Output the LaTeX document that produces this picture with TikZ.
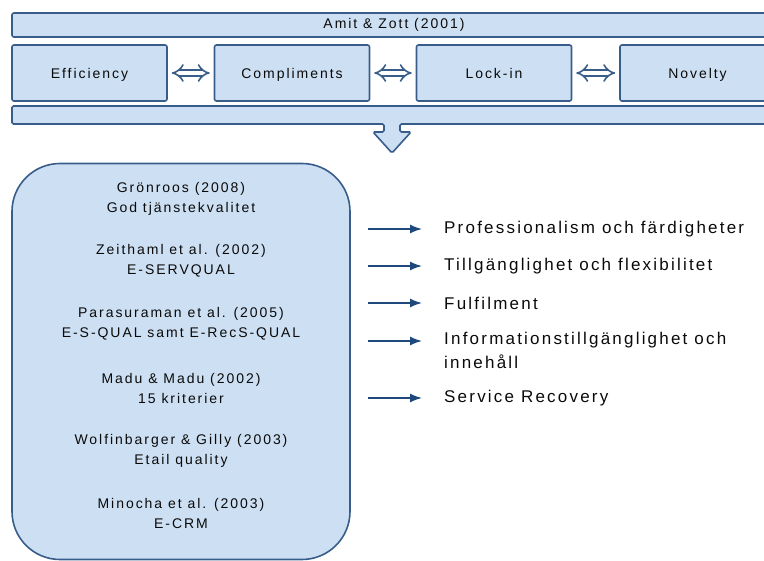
\documentclass[tikz,border=0pt]{standalone}
\usepackage{fontspec}
\usepackage{xcolor}
\usepackage{tikz}
\usetikzlibrary{arrows.meta}
\setmainfont{Liberation Sans}
\newfontfamily\panefont[LetterSpace=14]{Liberation Sans}
\newfontfamily\itemfont[LetterSpace=13]{Liberation Sans}
\definecolor{panefill}{RGB}{205,223,242}
\definecolor{paneline}{RGB}{56,93,138}
\definecolor{arrowblue}{RGB}{31,73,125}
\definecolor{inktext}{RGB}{10,10,10}

\tikzset{
  pane/.style={draw=paneline, fill=panefill, line width=1.6pt, rounded corners=2pt,
    inner sep=0pt, text=inktext, font=\panefont\fontsize{14}{20}\selectfont},
  stage/.style={pane, minimum width=155pt, minimum height=56pt, text height=12pt, text depth=0pt},
  link/.style={draw=paneline, double=white, double distance=4.5pt, line width=1.6pt,
    shorten >=4pt, shorten <=4pt, {Implies}-{Implies}},
  model/.style={align=center, inner sep=0pt, text=inktext,
    font=\panefont\fontsize{14}{20}\selectfont},
  dim/.style={anchor=west, align=left, inner sep=0pt, text=inktext,
    font=\itemfont\fontsize{17}{24}\selectfont},
  flow/.style={draw=arrowblue, line width=1.4pt, shorten >=22pt,
    -{Latex[length=12pt, width=9pt]}}
}

\begin{document}
\begin{tikzpicture}[x=1pt, y=-1pt]
  \useasboundingbox (0,0) rectangle (764,561);
  \clip (0,0) rectangle (764,561);
  % Amit & Zott bar at top
  \node[pane, minimum width=764pt, minimum height=24pt] (amit) at (394,25) {Amit \& Zott (2001)};
  % Value drivers
  \node[stage] (eff) at (89.5,73) {Efficiency};
  \node[stage] (comp) at (292,73) {Compliments};
  \node[stage] (lock) at (494,73) {Lock-in};
  \node[stage] (nov) at (697.5,73) {Novelty};
  \draw[link] (eff) -- (comp);
  \draw[link] (comp) -- (lock);
  \draw[link] (lock) -- (nov);
  % Bar with arrow down
  \draw[draw=paneline, fill=panefill, line width=1.6pt, rounded corners=1.5pt]
    (12,106) -- (776,106) -- (776,124) -- (400,124) -- (400,132) -- (411,132)
    -- (392,153) -- (373,132) -- (384,132) -- (384,124) -- (12,124) -- cycle;
  % Quality models
  \node[pane, rounded corners=48pt, minimum width=338pt, minimum height=396pt] (models) at (181,361.5) {};
  \node[model] (gron) at (181,199) {Grönroos (2008)\\God tjänstekvalitet};
  \node[model] (zeit) at (181,261) {Zeithaml et al. (2002)\\E-SERVQUAL};
  \node[model] (para) at (181,324) {Parasuraman et al. (2005)\\E-S-QUAL samt E-RecS-QUAL};
  \node[model] (madu) at (181,388) {Madu \& Madu (2002)\\15 kriterier};
  \node[model] (wolf) at (181,451) {Wolfinbarger \& Gilly (2003)\\Etail quality};
  \node[model] (mino) at (181,513) {Minocha et al. (2003)\\E-CRM};
  % Dimensions
  \coordinate (a1) at (368,229);
  \coordinate (a2) at (368,266);
  \coordinate (a3) at (368,303);
  \coordinate (a4) at (368,341);
  \coordinate (a5) at (368,398);
  \node[dim] (t1) at (444,229) {Professionalism och färdigheter};
  \node[dim] (t2) at (444,266) {Tillgänglighet och flexibilitet};
  \node[dim] (t3) at (444,303) {Fulfilment};
  \node[dim] (t4) at (444,350) {Informationstillgänglighet och\\innehåll};
  \node[dim] (t5) at (444,398) {Service Recovery};
  \draw[flow] (a1) -- (t1);
  \draw[flow] (a2) -- (t2);
  \draw[flow] (a3) -- (t3);
  \draw[flow] (a4) -- (a4 -| t4.west);
  \draw[flow] (a5) -- (t5);
\end{tikzpicture}
\end{document}
